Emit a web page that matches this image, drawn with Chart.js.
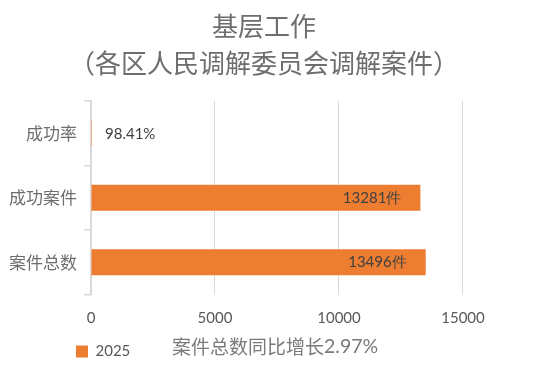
<!DOCTYPE html>
<html>
<head>
<meta charset="utf-8">
<script src="https://cdn.jsdelivr.net/npm/chart.js@4/dist/chart.umd.min.js"></script>
<style>
html,body{margin:0;padding:0;background:#fff;}
#wrap{width:558px;height:379px;position:relative;}
</style>
</head>
<body>
<div id="wrap"><canvas id="c" width="558" height="379"></canvas></div>
<script>
const titleLines = ['基层工作', '（各区人民调解委员会调解案件）'];
const categories = ['成功率', '成功案件', '案件总数'];
const seriesName = '2025';
const values2025 = [0.9841, 13281, 13496];
const valueUnits = ['%', '件', '件'];
const xTicks = [0, 5000, 10000, 15000];
const growthLabel = '案件总数同比增长';
const growthRate = 2.97;

const CJK = '"Noto Sans CJK SC", "Noto Sans", sans-serif';
const NUM = 'Lato, "Open Sans", sans-serif';
const ORANGE = '#ED7D31';
const GRID = '#d9d9d9';

function formatValue(v, unit) {
  return unit === '%' ? (v * 100).toFixed(2) + '%' : String(v) + unit;
}

const valueLabelPlugin = {
  id: 'valueLabels',
  afterDatasetsDraw(chart) {
    const ctx = chart.ctx;
    const meta = chart.getDatasetMeta(0);
    ctx.save();
    ctx.font = '15px ' + NUM;
    ctx.textBaseline = 'middle';
    meta.data.forEach((bar, i) => {
      const txt = formatValue(values2025[i], valueUnits[i]);
      const w = ctx.measureText(txt).width;
      ctx.fillStyle = '#404040';
      if (bar.x - bar.base > w + 30) {
        ctx.textAlign = 'right';
        ctx.fillText(txt, bar.x - 19, bar.y);
      } else {
        ctx.textAlign = 'left';
        ctx.fillText(txt, bar.x + 14, bar.y + 1);
      }
    });
    ctx.restore();
  },
  afterLayout(chart) {
    const lg = chart.legend;
    if (lg) {
      const shift = 74.5 - lg.left;
      lg.left += shift;
      lg.right += shift;
    }
  },
  afterDraw(chart) {
    const ctx = chart.ctx;
    ctx.save();
    ctx.textBaseline = 'middle';
    ctx.textAlign = 'left';
    ctx.fillStyle = '#7a7a7a';
    ctx.font = '19px ' + CJK;
    const t1 = growthLabel;
    ctx.fillText(t1, 172, 347);
    const w1 = ctx.measureText(t1).width;
    ctx.font = '19.5px ' + NUM;
    ctx.fillText(growthRate.toFixed(2) + '%', 172 + w1, 347);
    ctx.restore();
  }
};

new Chart(document.getElementById('c'), {
  type: 'bar',
  data: {
    labels: categories,
    datasets: [{
      label: seriesName,
      data: values2025,
      backgroundColor: ORANGE,
      borderWidth: 0,
      barPercentage: 0.8,
      categoryPercentage: 0.5
    }]
  },
  options: {
    indexAxis: 'y',
    responsive: false,
    animation: false,
    layout: { padding: { left: 0, right: 30, top: 0, bottom: 10 } },
    plugins: {
      title: {
        display: true,
        text: titleLines,
        color: '#6e6e6e',
        font: { family: CJK, size: 26, weight: 'normal', lineHeight: 37 / 26 },
        padding: { top: 7.5, bottom: 19.5 }
      },
      legend: {
        display: true,
        position: 'bottom',
        align: 'start',
        labels: {
          boxWidth: 12,
          boxHeight: 12,
          padding: 1.5,
          color: '#595959',
          font: { family: NUM, size: 15 }
        }
      },
      tooltip: { enabled: false }
    },
    scales: {
      x: {
        type: 'linear',
        min: 0,
        max: 17621,
        afterBuildTicks(scale) {
          scale.ticks = xTicks.map(v => ({ value: v }));
        },
        grid: { color: GRID, lineWidth: 1, drawTicks: false },
        border: { display: false },
        ticks: {
          padding: 15,
          color: '#595959',
          font: { family: NUM, size: 15 },
          callback: (v) => String(v)
        }
      },
      y: {
        afterFit(scale) { scale.width = 91; },
        grid: { drawOnChartArea: false, drawTicks: true, tickLength: 7, color: GRID, lineWidth: 1.5 },
        border: { display: true, color: GRID, width: 2 },
        ticks: {
          padding: 7,
          color: '#6e6e6e',
          font: { family: CJK, size: 17 }
        }
      }
    }
  },
  plugins: [valueLabelPlugin]
});
</script>
</body>
</html>
